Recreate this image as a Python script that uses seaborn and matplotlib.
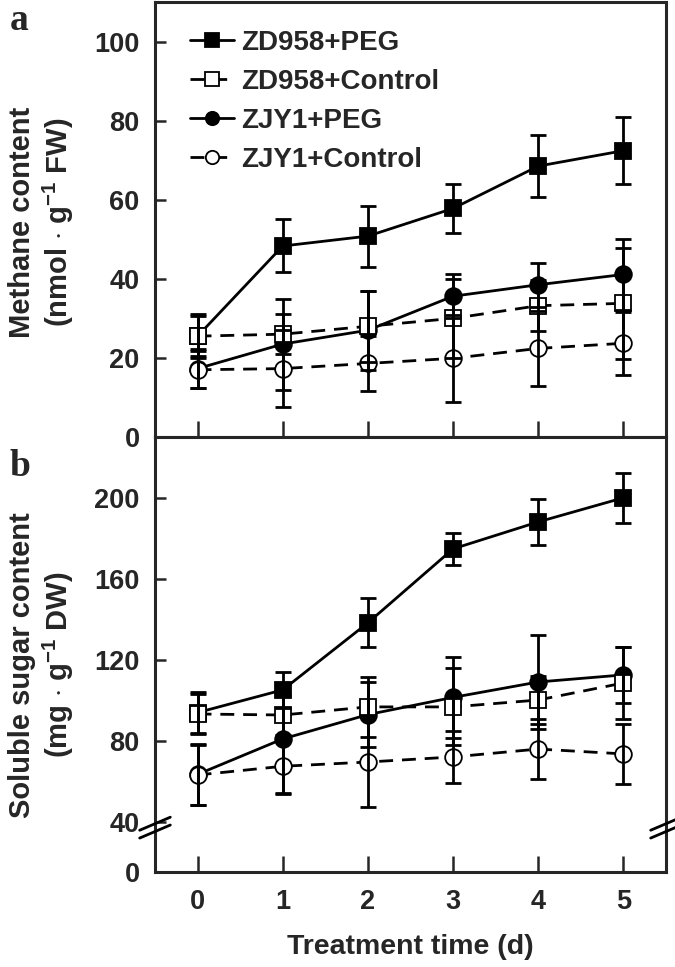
import numpy as np
import pandas as pd
import matplotlib
matplotlib.use("Agg")
import matplotlib.pyplot as plt
import seaborn as sns

# ---------------- data ----------------
days = [0, 1, 2, 3, 4, 5]
series_names = ["ZD958+PEG", "ZD958+Control", "ZJY1+PEG", "ZJY1+Control"]

methane_zd_peg = [25.5, 48.3, 50.8, 57.8, 68.5, 72.4]
methane_zd_peg_err = [5.5, 6.7, 7.7, 6.3, 7.8, 8.4]
methane_zd_ctrl = [25.5, 26.0, 28.0, 30.0, 33.2, 33.8]
methane_zd_ctrl_err = [5.0, 5.0, 9.0, 10.0, 6.5, 14.0]
methane_zj_peg = [17.3, 23.5, 27.0, 35.6, 38.5, 41.1]
methane_zj_peg_err = [5.0, 11.5, 10.0, 5.5, 5.6, 9.0]
methane_zj_ctrl = [17.0, 17.3, 18.6, 19.9, 22.4, 23.7]
methane_zj_ctrl_err = [4.7, 9.7, 7.0, 11.0, 9.4, 8.0]

sugar_zd_peg = [94.0, 105.2, 138.3, 174.8, 188.1, 200.0]
sugar_zd_peg_err = [10.0, 9.0, 12.0, 8.0, 11.5, 12.3]
sugar_zd_ctrl = [93.3, 92.8, 96.8, 96.8, 100.2, 108.6]
sugar_zd_ctrl_err = [10.0, 10.0, 15.0, 19.0, 12.0, 18.0]
sugar_zj_peg = [63.5, 81.0, 93.0, 101.5, 109.1, 112.6]
sugar_zj_peg_err = [15.0, 27.0, 16.0, 20.0, 23.0, 14.0]
sugar_zj_ctrl = [63.2, 67.5, 69.6, 72.1, 76.0, 73.6]
sugar_zj_ctrl_err = [15.0, 13.0, 22.0, 13.0, 15.0, 15.0]

methane_ticks = [0, 20, 40, 60, 80, 100]
sugar_ticks = [0, 40, 80, 120, 160, 200]

methane = {
    "ZD958+PEG": (methane_zd_peg, methane_zd_peg_err),
    "ZD958+Control": (methane_zd_ctrl, methane_zd_ctrl_err),
    "ZJY1+PEG": (methane_zj_peg, methane_zj_peg_err),
    "ZJY1+Control": (methane_zj_ctrl, methane_zj_ctrl_err),
}
sugar = {
    "ZD958+PEG": (sugar_zd_peg, sugar_zd_peg_err),
    "ZD958+Control": (sugar_zd_ctrl, sugar_zd_ctrl_err),
    "ZJY1+PEG": (sugar_zj_peg, sugar_zj_peg_err),
    "ZJY1+Control": (sugar_zj_ctrl, sugar_zj_ctrl_err),
}

def long_df(d):
    rows = []
    for name, (vals, errs) in d.items():
        for x, v, e in zip(days, vals, errs):
            rows.append({"day": x, "value": v, "err": e, "series": name})
    return pd.DataFrame(rows)

df_m = long_df(methane)
df_s = long_df(sugar)

# ---------------- style ----------------
sns.set_style("ticks")
plt.rcParams["font.family"] = ["Liberation Sans", "DejaVu Sans"]
plt.rcParams["font.weight"] = "bold"
plt.rcParams["axes.labelweight"] = "bold"
plt.rcParams["mathtext.fontset"] = "custom"
plt.rcParams["mathtext.rm"] = "Liberation Sans:bold"
plt.rcParams["mathtext.default"] = "rm"

styles = {
    "ZD958+PEG": dict(marker="s", mfc="black", ls="-", z=3),
    "ZD958+Control": dict(marker="s", mfc="white", ls="--", z=5),
    "ZJY1+PEG": dict(marker="o", mfc="black", ls="-", z=4),
    "ZJY1+Control": dict(marker="o", mfc="white", ls="--", z=6),
}
draw_order = ["ZD958+PEG", "ZJY1+PEG", "ZD958+Control", "ZJY1+Control"]

W, H = 675, 967
fig = plt.figure(figsize=(W / 100, H / 100), dpi=100)
L, R = 155, 666
ax_a = fig.add_axes([L / W, 1 - 437 / H, (R - L) / W, 435 / H])
ax_b = fig.add_axes([L / W, 1 - 872 / H, (R - L) / W, 435 / H])

def fwd(y):
    y = np.asarray(y, dtype=float)
    return np.where(y <= 40, y * 0.617, 24.68 + (y - 40))

def inv(y):
    y = np.asarray(y, dtype=float)
    return np.where(y <= 24.68, y / 0.617, y - 24.68 + 40)

ax_b.set_yscale("function", functions=(fwd, inv))

def draw(ax, df):
    for name in draw_order:
        st = styles[name]
        sub = df[df["series"] == name]
        sns.lineplot(data=sub, x="day", y="value", ax=ax, label=name,
                     color="black", marker=st["marker"], markersize=12,
                     markerfacecolor=st["mfc"], markeredgecolor="black",
                     markeredgewidth=1.3, linewidth=2.0,
                     errorbar=None, zorder=st["z"])
        ln = ax.get_lines()[-1]
        if st["ls"] == "--":
            ln.set_dashes((5, 3.2))
        ax.errorbar(sub["day"], sub["value"], yerr=sub["err"], fmt="none",
                    ecolor="black", elinewidth=2.0, capsize=5.5, capthick=2.0,
                    zorder=8)

draw(ax_a, df_m)
draw(ax_b, df_s)

TICK_FS = 19.5
for ax in (ax_a, ax_b):
    ax.set_xlim(-0.5, 5.5)
    ax.set_xticks(days)
    for sp in ax.spines.values():
        sp.set_linewidth(2.2)
    ax.tick_params(axis="y", direction="in", length=8, width=1.8, pad=11,
                   labelsize=TICK_FS, left=True, right=False)
    ax.tick_params(axis="x", direction="in", length=11.5, width=1.8, pad=12,
                   labelsize=TICK_FS, top=False)
    ax.set_xlabel("")
    ax.set_ylabel("")

ax_a.set_ylim(0, 110)
ax_a.set_yticks(methane_ticks)
ax_a.set_yticklabels([str(t) for t in methane_ticks], fontweight="bold")
ax_a.tick_params(axis="x", labelbottom=False)

ax_b.set_ylim(0, 230)
ax_b.set_yticks(sugar_ticks)
ax_b.set_yticklabels([str(t) for t in sugar_ticks], fontweight="bold")
ax_b.set_xticklabels([str(d) for d in days], fontweight="bold")
ax_b.set_xlabel("Treatment time (d)", fontsize=20.5, fontweight="bold", labelpad=14)
ax_b.get_legend().remove()

# legend (order as in reference)
handles, labels = ax_a.get_legend_handles_labels()
hmap = dict(zip(labels, handles))
ax_a.legend([hmap[n] for n in series_names], series_names, loc="upper left",
            bbox_to_anchor=(0.035, 0.975), frameon=False,
            handlelength=1.6, handletextpad=0.25, labelspacing=0.47,
            markerscale=0.8, borderaxespad=0.2,
            prop={"weight": "bold", "size": 20})

# y labels
fig.text(42 / W, 1 - 222 / H, "Methane content\n(nmol $\\cdot$ g$^{-1}$ FW)",
         rotation=90, ha="center", va="center", ma="center", fontsize=21,
         fontweight="bold", linespacing=1.15)
fig.text(42 / W, 1 - 665 / H, "Soluble sugar content\n(mg $\\cdot$ g$^{-1}$ DW)",
         rotation=90, ha="center", va="center", ma="center", fontsize=21,
         fontweight="bold", linespacing=1.15)

# panel letters
fig.text(10 / W, 1 - 30 / H, "a", fontsize=27, fontweight="bold",
         family=["Liberation Serif", "DejaVu Serif"])
fig.text(10 / W, 1 - 476 / H, "b", fontsize=27, fontweight="bold",
         family=["Liberation Serif", "DejaVu Serif"])

# axis-break marks on the sugar panel
for xa in (0.0, 1.0):
    for dy in (-0.009, 0.009):
        ax_b.plot([xa - 0.03, xa + 0.03], [0.087 + dy, 0.117 + dy],
                  transform=ax_b.transAxes, color="black", lw=2.0,
                  clip_on=False, zorder=10)

fig.savefig("out.png", dpi=100)
